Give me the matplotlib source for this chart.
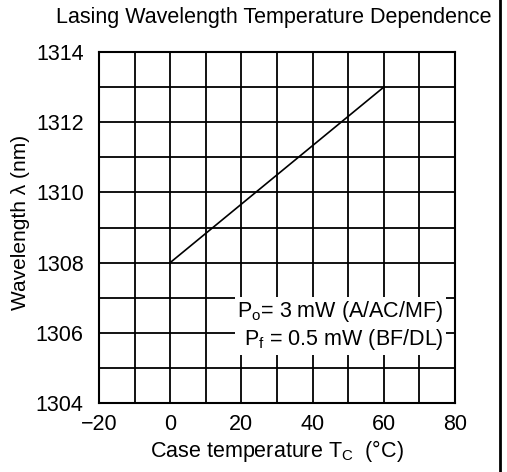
import matplotlib
matplotlib.use("Agg")
import matplotlib.pyplot as plt
from matplotlib.lines import Line2D

plt.rcParams['font.family'] = ['Liberation Sans', 'DejaVu Sans']
plt.rcParams['mathtext.fontset'] = 'custom'
plt.rcParams['mathtext.rm'] = 'Liberation Sans'
plt.rcParams['mathtext.it'] = 'Liberation Sans'

# data
temp_c = [0, 60]
wavelength_nm = [1308, 1313]

x_ticks = [-20, 0, 20, 40, 60, 80]
y_ticks = [1304, 1306, 1308, 1310, 1312, 1314]
note_lines = [r"P$_{\rm o}$= 3 mW (A/AC/MF)", r"P$_{\rm f}$ = 0.5 mW (BF/DL)"]

fs = 15.5

fig = plt.figure(figsize=(5.07, 4.72), dpi=100)
ax = fig.add_axes([99/507, 1 - 403/472, 356/507, 351/472])

ax.plot(temp_c, wavelength_nm, color='black', lw=1.2, zorder=3)

ax.set_xlim(-20, 80)
ax.set_ylim(1304, 1314)
ax.set_xticks(x_ticks)
ax.set_yticks(y_ticks)
ax.set_xticks(range(-20, 81, 10), minor=True)
ax.set_yticks(range(1304, 1315), minor=True)
ax.grid(which='both', color='black', lw=1.3)
ax.set_axisbelow(True)
ax.tick_params(which='both', length=0)
ax.tick_params(axis='x', pad=8, labelsize=fs)
ax.tick_params(axis='y', pad=11, labelsize=fs)
for s in ax.spines.values():
    s.set_linewidth(1.5)

ax.set_xlabel(r"Case temperature T$_{\rm C}$  (°C)", fontsize=fs, labelpad=2)
ax.set_ylabel("Wavelength λ (nm)", fontsize=15)
ax.yaxis.set_label_coords(-0.195, 0.515)
fig.text(0.54, 0.962, "Lasing Wavelength Temperature Dependence",
         ha='center', va='center', fontsize=fs)

ax.text(76.8, 1306.2, "\n".join(note_lines), ha='right', va='center',
        fontsize=fs, linespacing=1.15, zorder=4,
        bbox=dict(facecolor='white', edgecolor='none', pad=2))

fig.add_artist(Line2D([0.986, 0.986], [0, 1], color='black', lw=2,
                      transform=fig.transFigure))

fig.savefig("out.png", dpi=100)
